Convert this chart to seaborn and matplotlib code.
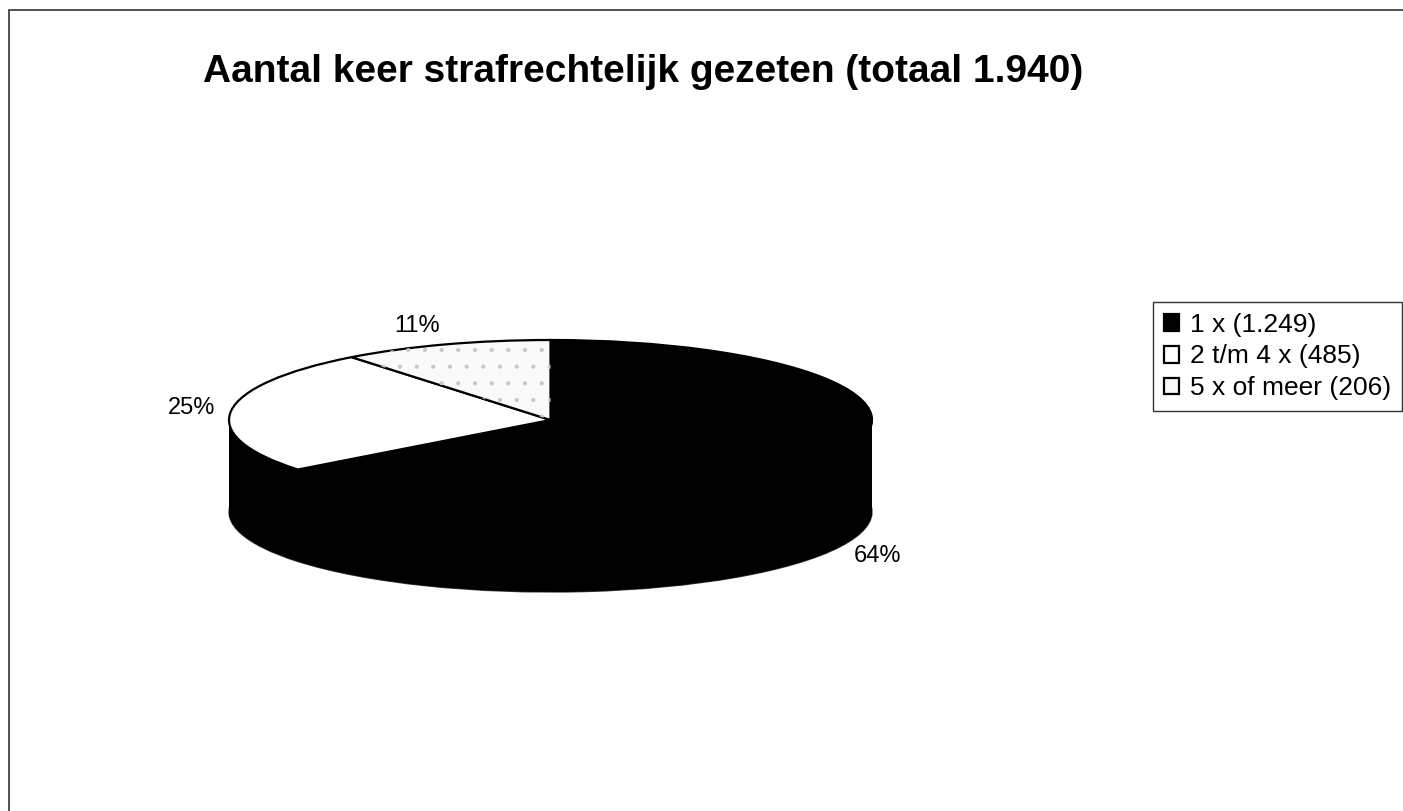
import numpy as np
import matplotlib
matplotlib.use("Agg")
import matplotlib.pyplot as plt
from matplotlib.patches import Rectangle
import seaborn as sns

# data
categories = ['1 x', '2 t/m 4 x', '5 x of meer']
counts = [1249, 485, 206]
title = 'Aantal keer strafrechtelijk gezeten (totaal 1.940)'
top_colors = ['black', 'white', '#fafafa']

sns.set_style('white')
plt.rcParams['font.family'] = ['Liberation Sans', 'DejaVu Sans']
plt.rcParams['text.color'] = 'black'
plt.rcParams['hatch.linewidth'] = 0.6

total = sum(counts)
legend_labels = [f"{c} ({n:,})".replace(',', '.') for c, n in zip(categories, counts)]

W, H = 1403, 811
fig = plt.figure(figsize=(W / 100, H / 100), dpi=100)

# pie geometry in pixels (flattened ellipse, excel style 3d)
cx, cy, rx, ry = 550.5, 420, 321.5, 80
depth = 1.15  # side height, in y radius units
ax = fig.add_axes([(cx - 1.25 * rx) / W, (H - cy - 2.65 * ry) / H,
                   2.5 * rx / W, 4.15 * ry / H])

# side wall: stacked black pies from bottom to top
ax.pie(counts, startangle=90, counterclock=False, center=(0, -depth),
       colors=['black'] * 3, wedgeprops=dict(edgecolor='#444444', linewidth=1))
for z in np.linspace(-depth, 0, 90):
    ax.pie(counts, startangle=90, counterclock=False, center=(0, z),
           colors=['black'] * 3, wedgeprops=dict(linewidth=0))

# top face
wedges, _ = ax.pie(counts, startangle=90, counterclock=False, colors=top_colors,
                   wedgeprops=dict(edgecolor='black', linewidth=1.6))
# sparse stipple only on the small slice
dots, _ = ax.pie(counts, startangle=90, counterclock=False, colors=['none'] * 3,
                 wedgeprops=dict(edgecolor='#c8c8c8', linewidth=0, hatch='.'))
for d in dots[:-1]:
    d.set_visible(False)

# percentage labels outside the slices
for w, n in zip(wedges, counts):
    ang = np.deg2rad((w.theta1 + w.theta2) / 2)
    x = 1.05 * np.cos(ang)
    y = 1.25 * np.sin(ang)
    if y < 0:
        y -= depth
    ax.text(x, y, f"{round(100 * n / total)}%", ha='right' if x < 0 else 'left',
            va='center', fontsize=17)

ax.set_aspect('auto')
ax.set_xlim(-1.25, 1.25)
ax.set_ylim(-1.5 - depth, 1.5)
ax.axis('off')

fig.text(643 / W, 1 - 72 / H, title, ha='center', va='center',
         fontsize=28, fontweight='bold')

leg = fig.legend(wedges, legend_labels, loc='upper left',
                 bbox_to_anchor=(1153 / W, 1 - 302 / H), frameon=True,
                 fancybox=False, edgecolor='black', fontsize=19,
                 handlelength=0.6, handleheight=0.6, handletextpad=0.4,
                 labelspacing=0.3, borderpad=0.4, borderaxespad=0)
leg.get_frame().set_linewidth(1)

# outer chart border (only top and left visible)
fig.add_artist(Rectangle((9 / W, -0.05), 1.0, 1.05 - 10 / H, transform=fig.transFigure,
                         fill=False, edgecolor='#333333', linewidth=1.2))

fig.savefig('out.png', dpi=100)
